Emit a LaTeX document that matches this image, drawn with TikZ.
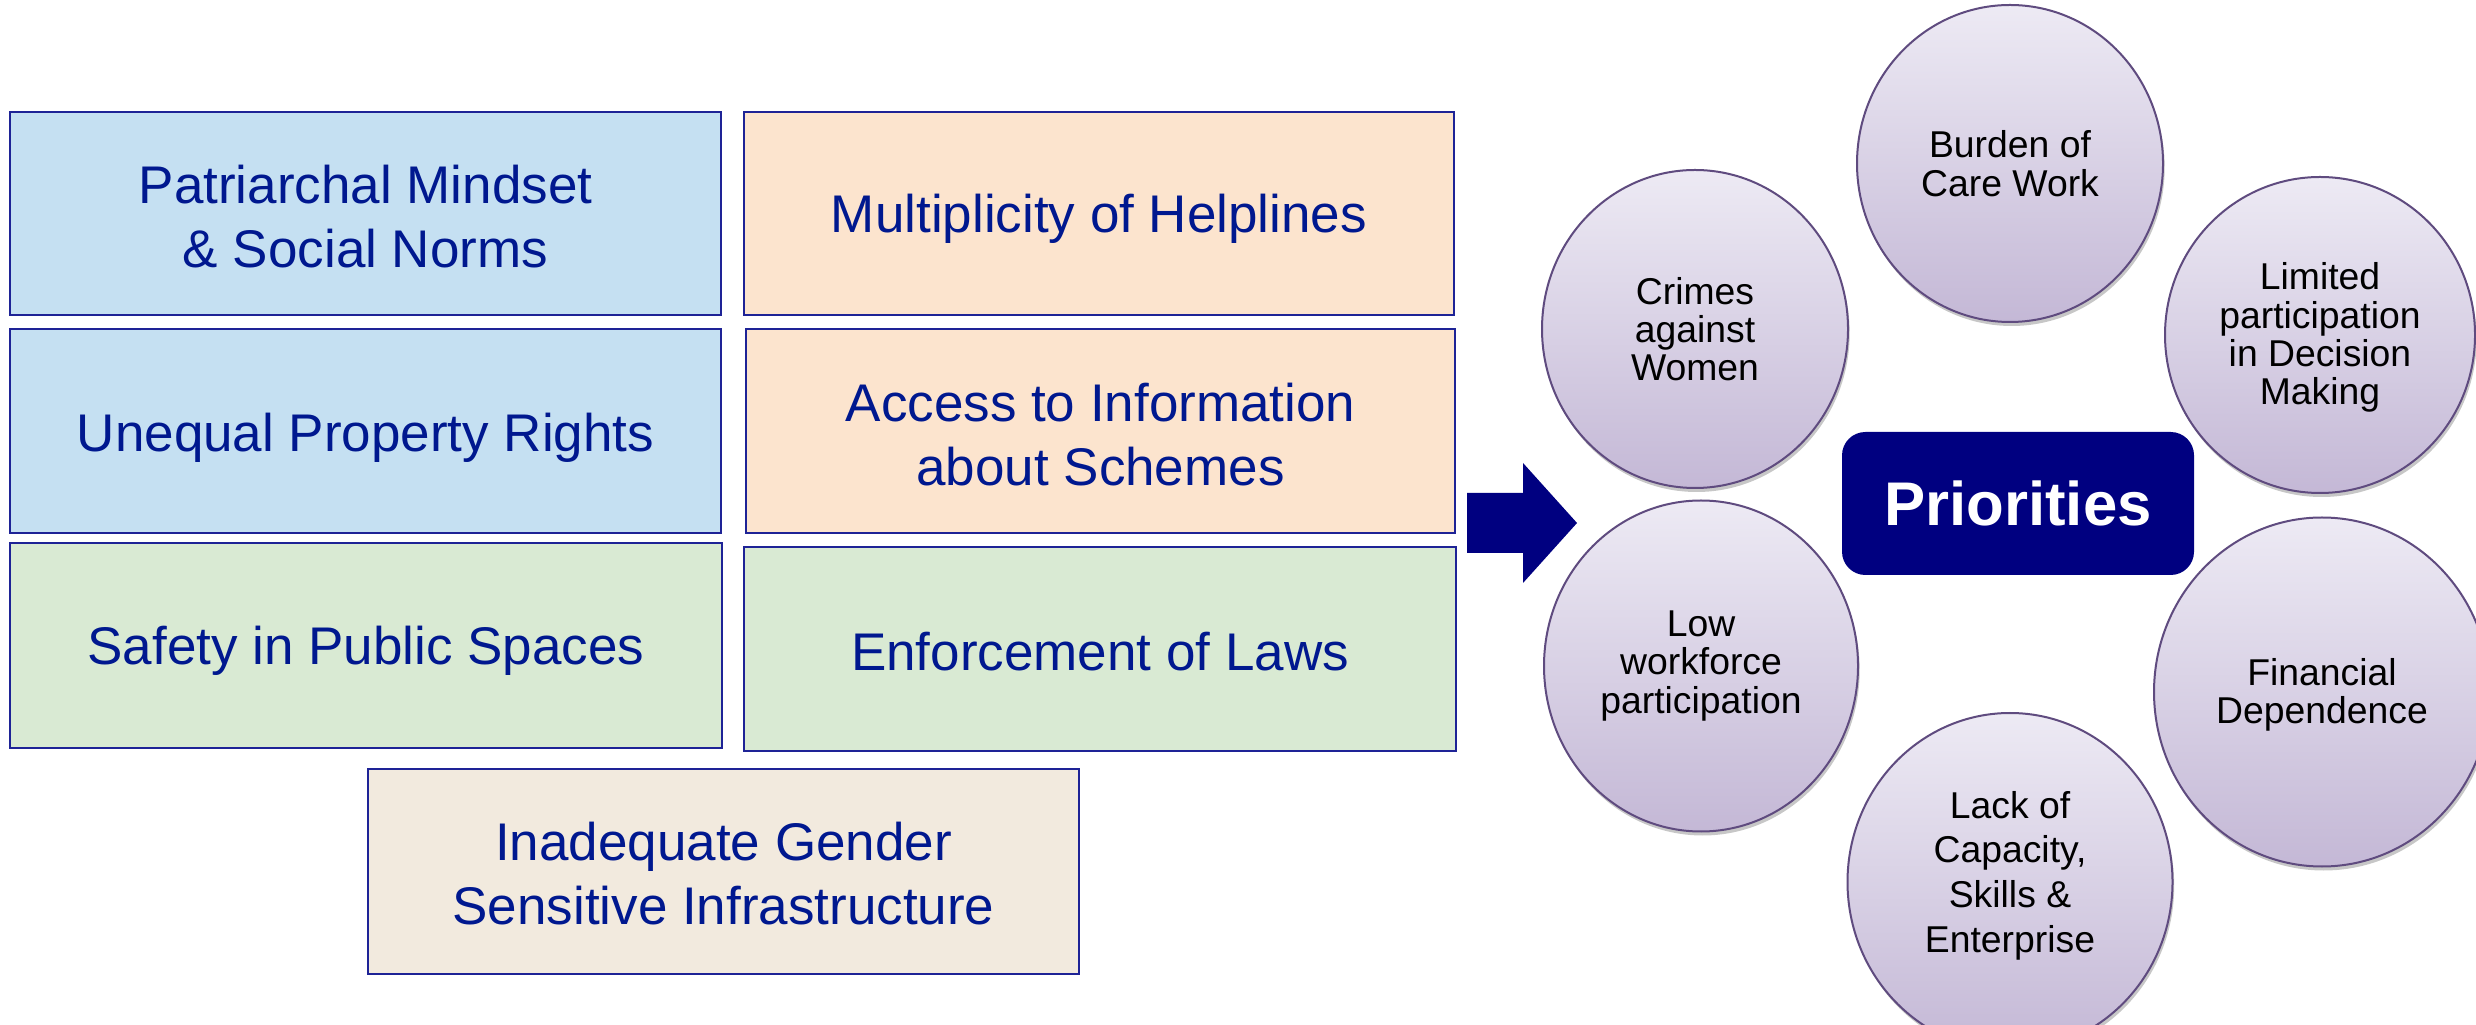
\documentclass[tikz,border=0pt]{standalone}
\usepackage{fontspec}
\setmainfont{Liberation Sans}
\usetikzlibrary{shapes.geometric,shadows}
\definecolor{txtblue}{RGB}{0,24,143}
\definecolor{boxline}{RGB}{30,35,150}
\definecolor{fblue}{RGB}{197,224,242}
\definecolor{fpeach}{RGB}{252,228,206}
\definecolor{fgreen}{RGB}{217,234,211}
\definecolor{fbeige}{RGB}{242,234,222}
\definecolor{navyc}{RGB}{0,0,128}
\definecolor{ctop}{RGB}{237,234,244}
\definecolor{cbot}{RGB}{196,184,214}
\definecolor{cline}{RGB}{95,75,127}
\begin{document}
\begin{tikzpicture}[x=0.3pt,y=-0.3pt,
  factor/.style={draw=boxline, line width=0.6pt, inner sep=0pt, outer sep=0pt,
    align=center, text=txtblue, font=\fontsize{15.9}{19.2}\selectfont,
    drop shadow={shadow xshift=0.4pt, shadow yshift=-0.4pt, opacity=0.6, fill=boxline!55!white}},
  oneline/.style={text depth=0pt},
  prio/.style={ellipse, draw=cline, line width=0.6pt, inner sep=0pt,
    top color=ctop, bottom color=cbot, align=center,
    font=\fontsize{11.2}{11.5}\selectfont,
    drop shadow={shadow xshift=0.5pt, shadow yshift=-1.2pt, opacity=0.22, fill=black}}
]
\useasboundingbox (0,0) rectangle (2476,1025);
\fill[white] (0,0) rectangle (2476,1025);
\clip (0,0) rectangle (2476,1025);

% factor boxes
\node[factor, fill=fblue, minimum width=711*0.3pt, minimum height=203*0.3pt] (b1) at (365.5,213.5)
  {\rule{0pt}{13.2pt}Patriarchal Mindset\\\& Social Norms};
\node[factor, oneline, fill=fpeach, minimum width=710*0.3pt, minimum height=203*0.3pt] (b2) at (1099,213.5)
  {Multiplicity of Helplines};
\node[factor, oneline, fill=fblue, minimum width=711*0.3pt, minimum height=204*0.3pt] (b3) at (365.5,431)
  {\rule{0pt}{12.4pt}Unequal Property Rights};
\node[factor, fill=fpeach, minimum width=709*0.3pt, minimum height=204*0.3pt] (b4) at (1100.5,431)
  {\rule{0pt}{13.5pt}Access to Information\\about Schemes};
\node[factor, oneline, fill=fgreen, minimum width=712*0.3pt, minimum height=205*0.3pt] (b5) at (366,645.5)
  {Safety in Public Spaces};
\node[factor, oneline, fill=fgreen, minimum width=712*0.3pt, minimum height=204*0.3pt] (b6) at (1100,649)
  {\rule{0pt}{13.2pt}Enforcement of Laws};
\node[factor, fill=fbeige, minimum width=711*0.3pt, minimum height=205*0.3pt] (b7) at (723.5,871.5)
  {\rule{0pt}{12.6pt}Inadequate Gender\\Sensitive Infrastructure};

% block arrow
\fill[navyc] (1467,493) -- (1523,493) -- (1523,463) -- (1577,523) -- (1523,583)
  -- (1523,553) -- (1467,553) -- cycle;

% priority circles
\node[prio, minimum width=306*0.3pt, minimum height=318*0.3pt] (crimes) at (1695,329)
  {Crimes\\against\\Women};
\node[prio, minimum width=306*0.3pt, minimum height=317*0.3pt] (burden) at (2010,163.5)
  {Burden of\\Care Work};
\node[prio, minimum width=310*0.3pt, minimum height=316*0.3pt] (limited) at (2320,335)
  {\rule{0pt}{9.8pt}Limited\\participation\\in Decision\\Making};
\node[prio, minimum width=314*0.3pt, minimum height=331*0.3pt] (low) at (1701,666)
  {Low\\workforce\\participation};
\node[prio, minimum width=336*0.3pt, minimum height=349*0.3pt] (fin) at (2322,692)
  {\rule{0pt}{9.8pt}Financial\\Dependence};
\node[prio, minimum width=325*0.3pt, minimum height=338*0.3pt, font=\fontsize{11.2}{13.4}\selectfont] (lack) at (2010,882)
  {Lack of\\Capacity,\\Skills \&\\Enterprise\rule[-6.2pt]{0pt}{1pt}};

% central label
\node[fill=navyc, rounded corners=7pt, inner sep=0pt, minimum width=352*0.3pt, minimum height=143*0.3pt,
  text=white, font=\fontsize{18.5}{22}\selectfont\bfseries] (center) at (2018,503.5) {Priorities};
\end{tikzpicture}
\end{document}
